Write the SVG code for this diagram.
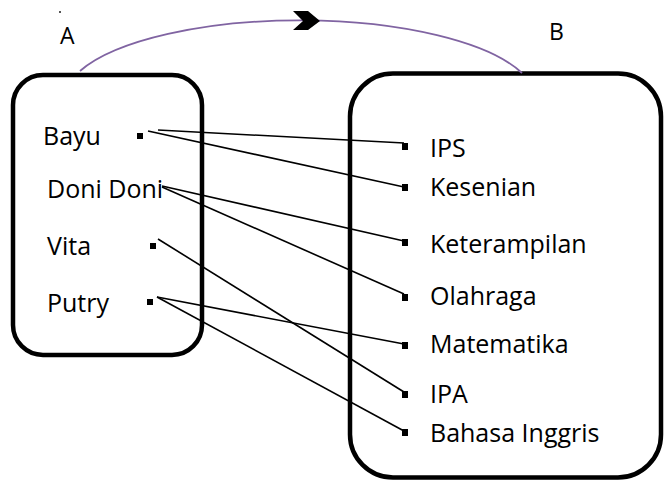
<svg xmlns="http://www.w3.org/2000/svg" width="664" height="482" viewBox="0 0 664 482">
<style>
.box{fill:none;stroke:#000;stroke-width:4.5}
.lbl{font-family:"Open Sans","Noto Sans",sans-serif;font-size:25px;fill:#000}
.big{font-family:"Open Sans","Noto Sans",sans-serif;font-size:23px;fill:#000}
.ln{stroke:#000;stroke-width:1.6;fill:none}
.bul{fill:#000}
</style>
<rect width="664" height="482" fill="#fff"/>
<rect x="59" y="11" width="2" height="2" fill="#555"/>
<text class="big" x="60" y="44">A</text>
<text class="big" x="549" y="40">B</text>
<g id="nodeA">
<rect class="box" x="13" y="75" width="189" height="280" rx="30"/>
<text class="lbl" x="43" y="145">Bayu</text>
<text class="lbl" x="47" y="198">Doni Doni</text>
<text class="lbl" x="47" y="255">Vita</text>
<text class="lbl" x="47" y="312">Putry</text>
<rect class="bul" x="137" y="133" width="6" height="6"/>
<rect class="bul" x="150" y="243" width="6" height="6"/>
<rect class="bul" x="147" y="299" width="6" height="6"/>
</g>
<g id="nodeB">
<rect class="box" x="350" y="73.5" width="311" height="404" rx="43"/>
<text class="lbl" x="430" y="157">IPS</text>
<text class="lbl" x="430" y="196">Kesenian</text>
<text class="lbl" x="430" y="253">Keterampilan</text>
<text class="lbl" x="430" y="305">Olahraga</text>
<text class="lbl" x="430" y="353">Matematika</text>
<text class="lbl" x="430" y="403">IPA</text>
<text class="lbl" x="430" y="442">Bahasa Inggris</text>
<rect class="bul" x="402" y="143" width="6" height="7"/>
<rect class="bul" x="402" y="184" width="6" height="7"/>
<rect class="bul" x="402" y="239" width="6" height="7"/>
<rect class="bul" x="402" y="294" width="6" height="7"/>
<rect class="bul" x="402" y="342" width="6" height="7"/>
<rect class="bul" x="402" y="391" width="6" height="7"/>
<rect class="bul" x="402" y="429" width="6" height="7"/>
</g>
<g id="connectors">
<path d="M80,71 A236,79.5 0 0 1 522,73" fill="none" stroke="#8064A2" stroke-width="1.8"/>
<polygon points="293,11 308,11 320,21 308,30 293,30 303,21" fill="#000"/>
<line class="ln" x1="158" y1="130" x2="404" y2="143"/>
<line class="ln" x1="148" y1="131" x2="404" y2="187"/>
<line class="ln" x1="162" y1="186" x2="404" y2="241"/>
<line class="ln" x1="162" y1="187" x2="404" y2="294"/>
<line class="ln" x1="158" y1="239" x2="404" y2="392"/>
<line class="ln" x1="157" y1="297" x2="404" y2="344"/>
<line class="ln" x1="157" y1="297" x2="404" y2="431"/>
</g>
</svg>
